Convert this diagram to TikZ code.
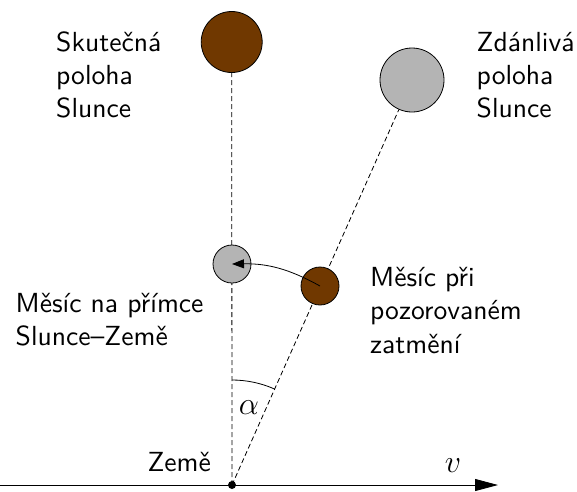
\RequirePackage{fix-cm}
\documentclass[tikz,border=0pt]{standalone}
\usepackage{fontspec}
\setsansfont{lmsans10-regular.otf}
\usetikzlibrary{arrows.meta,backgrounds}
\definecolor{sunbrown}{RGB}{112,56,0}
\definecolor{lightgr}{RGB}{180,180,180}
\begin{document}
\begin{tikzpicture}[x=1pt,y=-1pt,
  txt/.style={inner sep=0pt,align=left,font=\sffamily\fontsize{27.6}{33.1}\selectfont},
  mathlbl/.style={inner sep=0pt,font=\fontsize{32}{38}\selectfont},
  body/.style={circle,draw,line width=0.8pt,inner sep=0pt},
  sight/.style={line width=0.8pt,dash pattern=on 5pt off 3pt},
]
\useasboundingbox (0,0) rectangle (577,491);
% bodies
\node[body,fill=sunbrown,minimum size=61pt] (S1) at (231.7,42) {};
\node[body,fill=lightgr,minimum size=64pt] (S2) at (412,80) {};
\node[body,fill=lightgr,minimum size=38pt] (M1) at (232,264) {};
\node[body,fill=sunbrown,minimum size=38pt] (M2) at (320,286) {};
\node[circle,fill=black,inner sep=0pt,minimum size=8pt] (E) at (232,485) {};
\coordinate (A0) at (0,485);
\coordinate (A1) at (498,485);
% lines of sight
\begin{scope}[on background layer]
\draw[sight] (E.center) -- (S1);
\draw[sight] (E.center) -- (S2);
\end{scope}
% angle
\draw[line width=0.8pt] ([shift={(-90:105)}]E.center) arc[start angle=-90,end angle=-66,radius=105];
\node[mathlbl] (alpha) at (249,408) {$\alpha$};
% moon motion
\draw[line width=0.8pt,-{Triangle[length=12pt,width=9pt]}] (M2.center) to[bend right=15] (M1.center);
% axis
\draw[line width=0.8pt,-{Triangle[length=23pt,width=12pt]}] (A0) -- (A1);
\node[mathlbl] (v) at (453,466) {$v$};
% labels (base anchor = baseline of last line)
\node[txt,anchor=base west] (L1) at (56,117.7) {Skutečná\\poloha\\Slunce};
\node[txt,anchor=base west] (L2) at (476.5,117.7) {Zdánlivá\\poloha\\Slunce};
\node[txt,anchor=base west] (L3) at (370,353) {Měsíc při\\pozorovaném\\zatmění};
\node[txt,anchor=base west] (L4) at (15.5,345.5) {Měsíc na přímce\\Slunce–Země};
\node[txt,anchor=base east] (L5) at (211,471) {Země};
\end{tikzpicture}
\end{document}
